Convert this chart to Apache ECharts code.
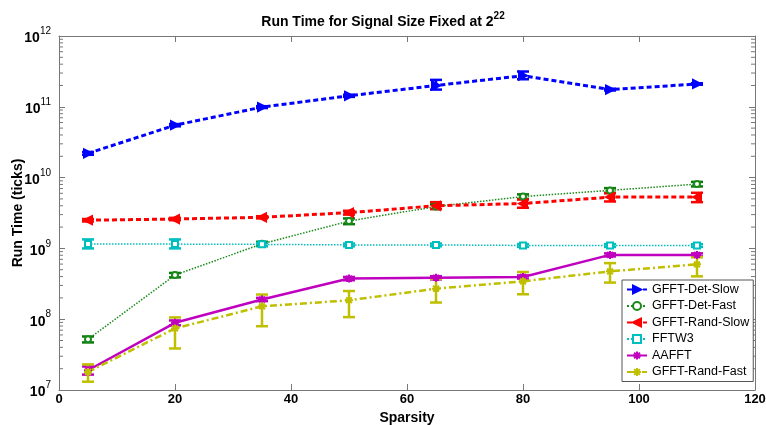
<!DOCTYPE html>
<html>
<head>
<meta charset="utf-8">
<script src="https://cdn.jsdelivr.net/npm/echarts@6/dist/echarts.min.js"></script>
<style>
  html, body { margin: 0; padding: 0; background: #fff; }
  #chart { width: 766px; height: 425px; }
</style>
</head>
<body>
<div id="chart"></div>
<script>
// sparsity values on the x axis
var sparsity = [5, 20, 35, 50, 65, 80, 95, 110];

// run time (ticks), mean and error bar bounds
var detSlow   = [2.2e10, 5.5e10, 9.9e10, 1.43e11, 2.0e11, 2.75e11, 1.75e11, 2.1e11];
var detSlowLo = [2.1e10, 5.3e10, 9.6e10, 1.38e11, 1.75e11, 2.45e11, 1.7e11, 2.05e11];
var detSlowHi = [2.3e10, 5.7e10, 1.02e11, 1.48e11, 2.4e11, 3.15e11, 1.8e11, 2.15e11];

var detFast   = [5.2e7, 4.2e8, 1.16e9, 2.43e9, 3.9e9, 5.4e9, 6.6e9, 8.1e9];
var detFastLo = [4.7e7, 3.9e8, 1.08e9, 2.2e9, 3.6e9, 5.0e9, 6.1e9, 7.5e9];
var detFastHi = [5.7e7, 4.5e8, 1.24e9, 2.65e9, 4.2e9, 5.8e9, 7.1e9, 8.7e9];

var randSlow   = [2.5e9, 2.6e9, 2.75e9, 3.2e9, 4.0e9, 4.3e9, 5.3e9, 5.3e9];
var randSlowLo = [2.4e9, 2.5e9, 2.65e9, 3.0e9, 3.6e9, 3.75e9, 4.6e9, 4.5e9];
var randSlowHi = [2.6e9, 2.7e9, 2.85e9, 3.4e9, 4.5e9, 4.9e9, 6.0e9, 6.1e9];

var fftw   = [1.15e9, 1.15e9, 1.14e9, 1.12e9, 1.12e9, 1.1e9, 1.1e9, 1.1e9];
var fftwLo = [1.0e9, 1.0e9, 1.08e9, 1.07e9, 1.07e9, 1.05e9, 1.05e9, 1.05e9];
var fftwHi = [1.34e9, 1.34e9, 1.2e9, 1.17e9, 1.17e9, 1.15e9, 1.15e9, 1.15e9];

var aafft   = [1.9e7, 8.9e7, 1.9e8, 3.75e8, 3.85e8, 3.95e8, 8.1e8, 8.1e8];
var aafftLo = [1.65e7, 8.2e7, 1.8e8, 3.55e8, 3.65e8, 3.75e8, 7.7e8, 7.7e8];
var aafftHi = [2.15e7, 9.6e7, 2.0e8, 3.95e8, 4.05e8, 4.15e8, 8.5e8, 8.5e8];

var randFast   = [1.8e7, 7.4e7, 1.52e8, 1.85e8, 2.7e8, 3.43e8, 4.74e8, 5.95e8];
var randFastLo = [1.31e7, 3.86e7, 7.96e7, 1.07e8, 1.72e8, 2.25e8, 3.29e8, 4.03e8];
var randFastHi = [2.3e7, 1.06e8, 2.23e8, 2.5e8, 3.7e8, 4.64e8, 6.2e8, 7.5e8];

var xTicks = [0, 20, 40, 60, 80, 100, 120];
var decades = [1e7, 1e8, 1e9, 1e10, 1e11];
var minorSteps = [2, 3, 4, 5, 6, 7, 8, 9];

var font = 'Liberation Sans, Arial, Helvetica, sans-serif';

function pairs(ys) {
    var out = [];
    for (var i = 0; i < sparsity.length; i++) out.push([sparsity[i], ys[i]]);
    return out;
}
function errData(lo, hi) {
    var out = [];
    for (var i = 0; i < sparsity.length; i++) out.push([sparsity[i], lo[i], hi[i]]);
    return out;
}

// vertical error bar with caps, drawn through the axis scales
function errSeries(name, lo, hi, color, lw) {
    return {
        name: name + ' err',
        type: 'custom',
        data: errData(lo, hi),
        z: 3,
        silent: true,
        renderItem: function (params, api) {
            var x = api.value(0);
            var pLo = api.coord([x, api.value(1)]);
            var pHi = api.coord([x, api.value(2)]);
            var w = 6;
            var st = { stroke: color, lineWidth: lw, fill: null };
            return {
                type: 'group',
                children: [
                    { type: 'line', shape: { x1: pLo[0], y1: pLo[1], x2: pHi[0], y2: pHi[1] }, style: st },
                    { type: 'line', shape: { x1: pLo[0] - w, y1: pLo[1], x2: pLo[0] + w, y2: pLo[1] }, style: st },
                    { type: 'line', shape: { x1: pHi[0] - w, y1: pHi[1], x2: pHi[0] + w, y2: pHi[1] }, style: st }
                ]
            };
        }
    };
}

// log minor ticks (2..9 per decade) on the left and right frame edges
var minorTickData = [];
decades.forEach(function (d) {
    minorSteps.forEach(function (m) { minorTickData.push([0, d * m]); });
});

var starPath = 'path://M0,-5L0,5M-5,0L5,0M-3.6,-3.6L3.6,3.6M-3.6,3.6L3.6,-3.6';

function lineSeries(name, ys, color, lineType, lw, symbol, size, rotate) {
    return {
        name: name,
        type: 'line',
        data: pairs(ys),
        symbol: symbol,
        symbolSize: size,
        symbolRotate: rotate || 0,
        showAllSymbol: true,
        z: 4,
        lineStyle: { color: color, width: lw, type: lineType },
        itemStyle: { color: color, borderColor: color, borderWidth: 2 },
        emphasis: { disabled: true }
    };
}

var chart = echarts.init(document.getElementById('chart'));

chart.setOption({
    animation: false,
    backgroundColor: '#fff',
    title: {
        text: '{t|Run Time for Signal Size Fixed at 2}{s|22}',
        left: 'center',
        top: 6,
        textStyle: {
            rich: {
                t: { fontFamily: font, fontSize: 14, fontWeight: 'bold', color: '#000', verticalAlign: 'bottom' },
                s: { fontFamily: font, fontSize: 10, color: '#000', verticalAlign: 'bottom', padding: [0, 0, 8, 0] }
            }
        }
    },
    grid: { left: 59, right: 11, top: 36, bottom: 35, containLabel: false, outerBoundsMode: 'none' },
    legend: {
        orient: 'vertical',
        left: 622,
        top: 280,
        padding: [3, 4, 3, 4],
        itemGap: 3.5,
        itemWidth: 20,
        itemHeight: 10,
        backgroundColor: '#fff',
        borderColor: '#555',
        borderWidth: 1,
        borderRadius: 0,
        textStyle: { fontFamily: font, fontSize: 12.5, color: '#000' },
        data: ['GFFT-Det-Slow', 'GFFT-Det-Fast', 'GFFT-Rand-Slow', 'FFTW3', 'AAFFT', 'GFFT-Rand-Fast']
    },
    xAxis: [{
        type: 'value',
        min: 0,
        max: 120,
        interval: 20,
        name: 'Sparsity',
        nameLocation: 'middle',
        nameGap: 18,
        nameTextStyle: { fontFamily: font, fontSize: 14, fontWeight: 'bold', color: '#000' },
        axisLine: { onZero: false, lineStyle: { color: '#777', width: 1 } },
        axisTick: { inside: true, length: 6, lineStyle: { color: '#777' } },
        axisLabel: {
            fontFamily: font, fontSize: 13, fontWeight: 'bold', color: '#000', margin: 3,
            formatter: function (v) { return xTicks.indexOf(v) >= 0 ? String(v) : ''; }
        },
        splitLine: { show: false }
    }, {
        type: 'value',
        position: 'top',
        min: 0,
        max: 120,
        interval: 20,
        axisLine: { onZero: false, lineStyle: { color: '#777', width: 1 } },
        axisTick: { inside: true, length: 6, lineStyle: { color: '#777' } },
        axisLabel: { show: false },
        splitLine: { show: false }
    }],
    yAxis: [{
        type: 'log',
        logBase: 10,
        min: 1e7,
        max: 1e12,
        name: 'Run Time (ticks)',
        nameLocation: 'middle',
        nameGap: 34,
        nameMoveOverlap: false,
        nameTextStyle: { fontFamily: font, fontSize: 14, fontWeight: 'bold', color: '#000' },
        axisLine: { onZero: false, lineStyle: { color: '#777', width: 1 } },
        axisTick: { inside: true, length: 6, lineStyle: { color: '#777' } },
        axisLabel: {
            margin: 8,
            formatter: function (v) {
                var e = Math.round(Math.log(v) / Math.LN10);
                return '{b|10}{s|' + e + '}';
            },
            rich: {
                b: { fontFamily: font, fontSize: 14, fontWeight: 'bold', color: '#000', verticalAlign: 'bottom' },
                s: { fontFamily: font, fontSize: 10, color: '#000', verticalAlign: 'bottom', padding: [0, 0, 9, 0] }
            }
        },
        splitLine: { show: false }
    }, {
        type: 'log',
        logBase: 10,
        position: 'right',
        min: 1e7,
        max: 1e12,
        axisLine: { onZero: false, lineStyle: { color: '#777', width: 1 } },
        axisTick: { inside: true, length: 6, lineStyle: { color: '#777' } },
        axisLabel: { show: false },
        splitLine: { show: false }
    }],
    series: [
        {
            name: 'minor ticks',
            type: 'custom',
            data: minorTickData,
            silent: true,
            z: 1,
            renderItem: function (params, api) {
                var cs = params.coordSys;
                var p = api.coord([0, api.value(1)]);
                var st = { stroke: '#777', lineWidth: 1 };
                return {
                    type: 'group',
                    children: [
                        { type: 'line', shape: { x1: cs.x, y1: p[1], x2: cs.x + 4, y2: p[1] }, style: st },
                        { type: 'line', shape: { x1: cs.x + cs.width, y1: p[1], x2: cs.x + cs.width - 4, y2: p[1] }, style: st }
                    ]
                };
            }
        },
        lineSeries('GFFT-Det-Slow', detSlow, '#0000ff', [5, 3], 3, 'triangle', 8, -90),
        errSeries('GFFT-Det-Slow', detSlowLo, detSlowHi, '#0000ff', 2.5),
        lineSeries('GFFT-Det-Fast', detFast, '#1a8a1a', 'dotted', 1.5, 'emptyCircle', 6),
        errSeries('GFFT-Det-Fast', detFastLo, detFastHi, '#0a7a0a', 2.5),
        lineSeries('GFFT-Rand-Slow', randSlow, '#ff0000', [5, 3], 3, 'triangle', 8, 90),
        errSeries('GFFT-Rand-Slow', randSlowLo, randSlowHi, '#ff0000', 2.5),
        lineSeries('FFTW3', fftw, '#00bfbf', 'dotted', 1.5, 'emptyRect', 6),
        errSeries('FFTW3', fftwLo, fftwHi, '#00bfbf', 2.5),
        lineSeries('AAFFT', aafft, '#bf00bf', 'solid', 2.5, starPath, 8),
        errSeries('AAFFT', aafftLo, aafftHi, '#bf00bf', 2.5),
        lineSeries('GFFT-Rand-Fast', randFast, '#bfbf00', [7, 3, 2, 3], 2.5, starPath, 8),
        errSeries('GFFT-Rand-Fast', randFastLo, randFastHi, '#bfbf00', 2.5)
    ]
});
</script>
</body>
</html>
